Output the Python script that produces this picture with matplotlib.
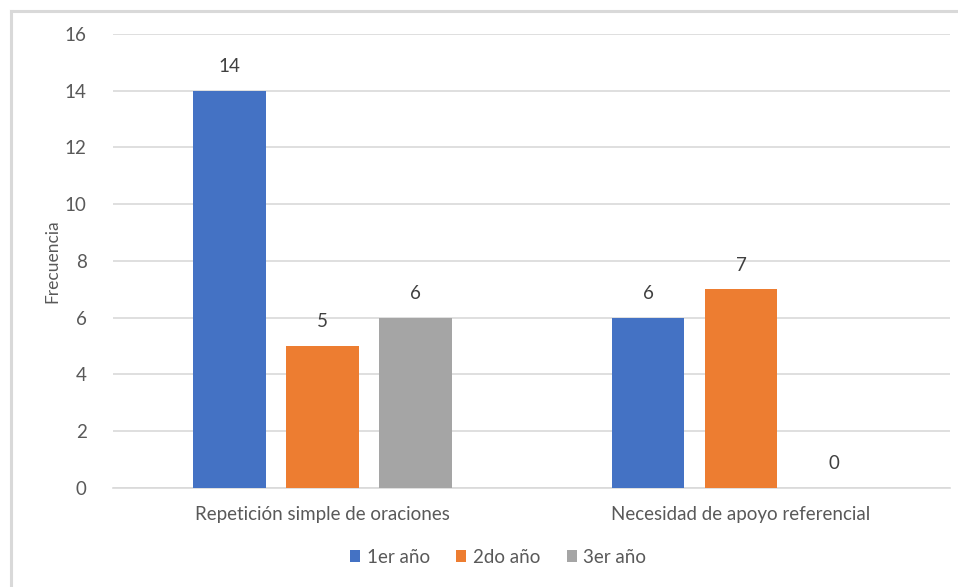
import numpy as np
import matplotlib.pyplot as plt
from matplotlib.lines import Line2D

categories = ['Repetición simple de oraciones', 'Necesidad de apoyo referencial']
series_names = ['1er año', '2do año', '3er año']
primer_anio = [14, 6]
segundo_anio = [5, 7]
tercer_anio = [6, 0]
colors = ['#4472C4', '#ED7D31', '#A5A5A5']

plt.rcParams['font.family'] = ['Lato', 'DejaVu Sans']
text_color = '#595959'
grid_color = '#D9D9D9'
fs = 13.5

fig = plt.figure(figsize=(9.58, 5.87), dpi=100)
ax = fig.add_axes([0.118, 0.1687, 0.874, 0.7734])

x = np.arange(len(categories))
width = 0.174
step = 0.222
for i, (vals, name) in enumerate(zip([primer_anio, segundo_anio, tercer_anio], series_names)):
    pos = x + (i - 1) * step
    ax.bar(pos, vals, width, color=colors[i], label=name, zorder=3)
    for xp, v in zip(pos, vals):
        ax.text(xp, v + 0.55, str(v), ha='center', va='bottom', fontsize=fs, color='#404040')

ax.set_xlim(-0.5, 1.5)
ax.set_ylim(0, 16)
ax.set_yticks(range(0, 17, 2))
ax.set_xticks(x)
ax.set_xticklabels(categories, fontsize=fs, color=text_color)
ax.tick_params(axis='y', labelsize=fs, labelcolor=text_color, length=0, pad=19)
ax.tick_params(axis='x', length=0, pad=13)
ax.yaxis.grid(True, color=grid_color, linewidth=1.2, zorder=0)
for side in ['top', 'right', 'left']:
    ax.spines[side].set_visible(False)
ax.spines['bottom'].set_color(grid_color)
ax.spines['bottom'].set_linewidth(1.2)
ax.set_ylabel('Frecuencia', fontsize=12.5, color=text_color, labelpad=3)

# chart frame (left and top edges)
fig.add_artist(Line2D([0.0115, 0.0115], [0, 0.982], transform=fig.transFigure, color='#D9D9D9', linewidth=2.2))
fig.add_artist(Line2D([0.0115, 1.0], [0.982, 0.982], transform=fig.transFigure, color='#D9D9D9', linewidth=2.2))

leg = ax.legend(loc='center', bbox_to_anchor=(0.52, 0.051), bbox_transform=fig.transFigure,
                ncol=3, frameon=False, fontsize=fs, labelcolor=text_color,
                handlelength=0.55, handleheight=0.55, handletextpad=0.35, columnspacing=1.4)

fig.savefig('out.png', dpi=100)
